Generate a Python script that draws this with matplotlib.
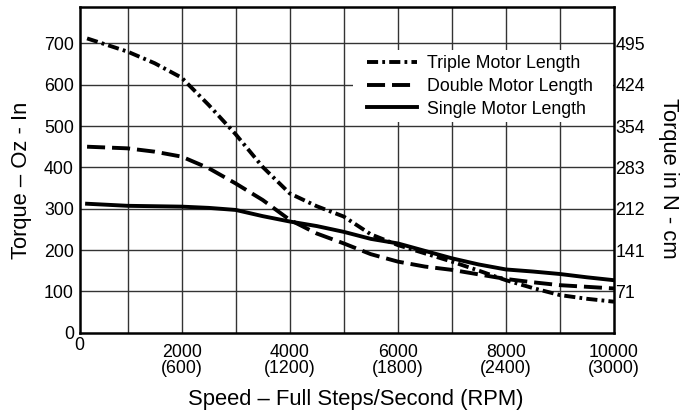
import matplotlib
matplotlib.use("Agg")
import matplotlib.pyplot as plt
from matplotlib.patches import Rectangle

plt.rcParams['font.family'] = ['Liberation Sans', 'DejaVu Sans']
plt.rcParams['lines.scale_dashes'] = False

speed = [250, 1000, 1500, 2000, 2500, 3000, 3500, 4000, 4500, 5000,
         5500, 6000, 6500, 7000, 7500, 8000, 8500, 9000, 9500, 10000]
triple = [712, 680, 652, 617, 551, 480, 401, 337, 306, 281,
          238, 212, 192, 172, 150, 127, 108, 91, 82, 75]
double = [450, 446, 438, 426, 398, 361, 321, 273, 240, 216,
          190, 172, 160, 152, 141, 130, 122, 115, 111, 107]
single = [312, 307, 306, 305, 302, 297, 282, 269, 258, 244,
          227, 216, 198, 180, 165, 153, 148, 142, 134, 127]

x_ticks = [2000, 4000, 6000, 8000, 10000]
x_labels = ["2000\n(600)", "4000\n(1200)", "6000\n(1800)", "8000\n(2400)", "10000\n(3000)"]
y_ticks = [0, 100, 200, 300, 400, 500, 600, 700]
y_right_ticks = [100, 200, 300, 400, 500, 600, 700]
y_right_labels = ["71", "141", "212", "283", "354", "424", "495"]

W, H = 680, 411
fig = plt.figure(figsize=(W / 100, H / 100), dpi=100)
ax = fig.add_axes([79.5 / W, 1 - 332.7 / H, (614 - 79.5) / W, (332.7 - 7) / H])

x0 = 110
ax.set_xlim(x0, 10000)
ax.set_ylim(0, 788)

# grid
for gx in range(1000, 10000, 1000):
    ax.axvline(gx, color='#333333', lw=1.0, zorder=1)
for gy in range(100, 800, 100):
    ax.axhline(gy, color='#333333', lw=1.0, zorder=1)

# white background behind the legend
ax.add_patch(Rectangle((353 / W, 1 - 122 / H), (613 - 353) / W, (122 - 50) / H,
                       transform=fig.transFigure, facecolor='white',
                       edgecolor='none', zorder=2))

lw = 2.8
ax.plot(speed, triple, color='black', lw=lw, dashes=(8, 3.0, 2.0, 3.0),
        label='Triple Motor Length', zorder=4, dash_capstyle='butt')
ax.plot(speed, double, color='black', lw=lw, dashes=(13, 5),
        label='Double Motor Length', zorder=4, dash_capstyle='butt')
ax.plot(speed, single, color='black', lw=lw, label='Single Motor Length', zorder=4)

fs = 12.8
ax.set_xticks(x_ticks)
ax.set_xticklabels(x_labels, fontsize=fs, linespacing=0.95)
ax.tick_params(axis='x', length=0, pad=8)
ax.annotate("0", xy=(x0, 0), xytext=(0, -3.0), textcoords='offset points',
            ha='center', va='top', fontsize=fs, annotation_clip=False)

ax.set_yticks(y_ticks)
ax.set_yticklabels([str(v) for v in y_ticks], fontsize=fs)
ax.tick_params(axis='y', length=0, pad=4)

for s in ax.spines.values():
    s.set_linewidth(1.8)
    s.set_zorder(5)

ax2 = ax.twinx()
ax2.set_ylim(0, 788)
ax2.set_yticks(y_right_ticks)
ax2.set_yticklabels(y_right_labels, fontsize=fs)
ax2.tick_params(axis='y', length=0, pad=1)
for s in ax2.spines.values():
    s.set_visible(False)

leg = ax.legend(loc='upper left', bbox_to_anchor=(362 / W, 1 - 50 / H),
                bbox_transform=fig.transFigure, fontsize=fs, frameon=False,
                handlelength=2.8, handletextpad=0.55, labelspacing=0.32,
                borderpad=0.3, borderaxespad=0)
leg.set_zorder(3)

fig.text(355.8 / W, (H - 405) / H, "Speed \u2013 Full Steps/Second (RPM)",
         fontsize=15.8, ha='center', va='baseline')
fig.text(21.7 / W, 1 - 180 / H, "Torque \u2013 Oz - In", fontsize=15.8,
         rotation=90, ha='center', va='center')
fig.text(668 / W, 1 - 178.5 / H, "Torque in N - cm", fontsize=15.8,
         rotation=270, ha='center', va='center')

fig.savefig("out.png", dpi=100)
